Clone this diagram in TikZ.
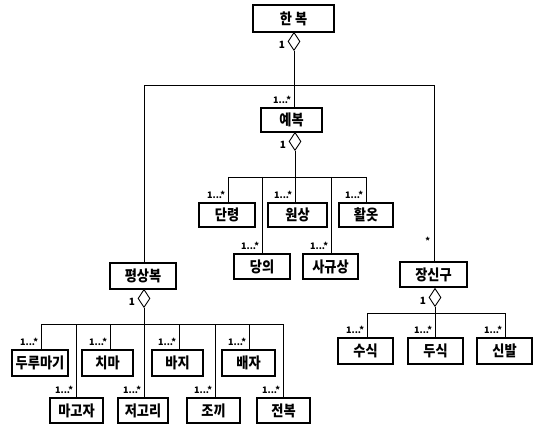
\documentclass[tikz,border=0pt]{standalone}
\usepackage{fontspec}
\setmainfont{Noto Sans CJK KR}
\newfontfamily\krfont{Noto Sans CJK KR}[FakeStretch=0.88]
\usepackage{tikz}
\usetikzlibrary{positioning,shapes.geometric}

\tikzset{
  cls/.style={draw, line width=1.1pt, inner sep=0pt, minimum height=25pt,
              font=\krfont\bfseries\fontsize{15}{15}\selectfont},
  agg/.style={diamond, draw, line width=0.9pt, fill=white, inner sep=0pt,
              minimum width=12pt, minimum height=18pt},
  link/.style={line width=0.8pt},
  mult/.style={font=\bfseries\fontsize{9}{9}\selectfont, inner sep=0.5pt,
               anchor=south east, xshift=-2pt, yshift=2.5pt},
  one/.style={font=\bfseries\fontsize{10}{10}\selectfont, inner sep=0.5pt,
              anchor=east, xshift=-2pt, yshift=-3pt}
}

\begin{document}
\begin{tikzpicture}[x=1pt,y=-1pt]
  \useasboundingbox (0,0) rectangle (537,427);

  % root and second level
  \node[cls, minimum width=81pt, minimum height=27pt] (hanbok) at (293.5,18.5) {한 복};
  \node[cls, minimum width=61pt, minimum height=24pt] (yebok) at (291.5,120) {예복};
  \node[cls, minimum width=66pt, minimum height=26pt] (pyeongsang) at (143,276) {평상복};
  \node[cls, minimum width=67pt] (jangsin) at (433.5,274.5) {장신구};

  \node[agg, anchor=north] (hanbok-d) at (294,32) {};
  \node[one] at (hanbok-d.west) {1};
  \coordinate (hb-l) at (144,85);
  \coordinate (hb-r) at (434,85);
  \draw[link] (hanbok-d) -- (hanbok-d |- yebok.north) node[mult]{1...*};
  \draw[link] (hb-l |- pyeongsang.north) -- (hb-l) -- (hb-r)
        -- (hb-r |- jangsin.north) node[mult, pos=0.9, anchor=east, xshift=-1pt, yshift=0pt]{*};

  % ceremonial dress
  \node[cls, minimum width=56pt, minimum height=24pt] (danryeong) at (227,215) {단령};
  \node[cls, minimum width=59pt, minimum height=24pt] (wonsam) at (297.5,215) {원상};
  \node[cls, minimum width=54pt, minimum height=24pt] (hwarot) at (366,215) {활옷};
  \node[cls, minimum width=56pt] (dangui) at (262,266.5) {당의};
  \node[cls, minimum width=55pt] (sagyusang) at (330.5,266.5) {사규상};

  \node[agg, anchor=north] (yebok-d) at (295,132) {};
  \node[one] at (yebok-d.west) {1};
  \coordinate (ye-b1) at (228,177);
  \coordinate (ye-b2) at (262,177);
  \coordinate (ye-b3) at (295,177);
  \coordinate (ye-b4) at (331,177);
  \coordinate (ye-b5) at (366,177);
  \draw[link] (yebok-d) -- (ye-b3);
  \draw[link] (ye-b1) -- (ye-b5);
  \draw[link] (ye-b1) -- (ye-b1 |- danryeong.north) node[mult]{1...*};
  \draw[link] (ye-b2) -- (ye-b2 |- dangui.north) node[mult]{1...*};
  \draw[link] (ye-b3) -- (ye-b3 |- wonsam.north) node[mult]{1...*};
  \draw[link] (ye-b4) -- (ye-b4 |- sagyusang.north) node[mult]{1...*};
  \draw[link] (ye-b5) -- (ye-b5 |- hwarot.north) node[mult]{1...*};

  % everyday dress
  \node[cls, minimum width=56pt, minimum height=26pt] (durumagi) at (40,363) {두루마기};
  \node[cls, minimum width=51pt, minimum height=26pt] (chima) at (107.5,363) {치마};
  \node[cls, minimum width=51pt, minimum height=26pt] (baji) at (177.5,363) {바지};
  \node[cls, minimum width=53pt, minimum height=26pt] (baeja) at (248.5,363) {배자};
  \node[cls, minimum width=53pt] (magoja) at (76.5,410.5) {마고자};
  \node[cls, minimum width=50pt] (jeogori) at (143,410.5) {저고리};
  \node[cls, minimum width=53pt] (jokki) at (213.5,410.5) {조끼};
  \node[cls, minimum width=53pt] (jeonbok) at (283.5,410.5) {전복};

  \node[agg, anchor=north] (pyeongsang-d) at (144,289) {};
  \node[one] at (pyeongsang-d.west) {1};
  \coordinate (py-b1) at (41,324);
  \coordinate (py-b2) at (76,324);
  \coordinate (py-b3) at (110,324);
  \coordinate (py-b4) at (144,324);
  \coordinate (py-b5) at (179,324);
  \coordinate (py-b6) at (215,324);
  \coordinate (py-b7) at (249,324);
  \coordinate (py-b8) at (283,324);
  \draw[link] (pyeongsang-d) -- (py-b4);
  \draw[link] (py-b1) -- (py-b8);
  \draw[link] (py-b1) -- (py-b1 |- durumagi.north) node[mult]{1...*};
  \draw[link] (py-b2) -- (py-b2 |- magoja.north) node[mult]{1...*};
  \draw[link] (py-b3) -- (py-b3 |- chima.north) node[mult]{1...*};
  \draw[link] (py-b4) -- (py-b4 |- jeogori.north) node[mult]{1...*};
  \draw[link] (py-b5) -- (py-b5 |- baji.north) node[mult]{1...*};
  \draw[link] (py-b6) -- (py-b6 |- jokki.north) node[mult]{1...*};
  \draw[link] (py-b7) -- (py-b7 |- baeja.north) node[mult]{1...*};
  \draw[link] (py-b8) -- (py-b8 |- jeonbok.north) node[mult]{1...*};

  % accessories
  \node[cls, minimum width=55pt, minimum height=26pt] (susik) at (365.5,351) {수식};
  \node[cls, minimum width=55pt, minimum height=26pt] (dusik) at (435.5,351) {두식};
  \node[cls, minimum width=55pt, minimum height=26pt] (sinbal) at (504.5,351) {신발};

  \node[agg, anchor=north] (jangsin-d) at (435,288) {};
  \node[one] at (jangsin-d.west) {1};
  \coordinate (js-b1) at (367,313);
  \coordinate (js-b2) at (435,313);
  \coordinate (js-b3) at (505,313);
  \draw[link] (jangsin-d) -- (js-b2);
  \draw[link] (js-b1) -- (js-b3);
  \draw[link] (js-b1) -- (js-b1 |- susik.north) node[mult]{1...*};
  \draw[link] (js-b2) -- (js-b2 |- dusik.north) node[mult]{1...*};
  \draw[link] (js-b3) -- (js-b3 |- sinbal.north) node[mult]{1...*};
\end{tikzpicture}
\end{document}
